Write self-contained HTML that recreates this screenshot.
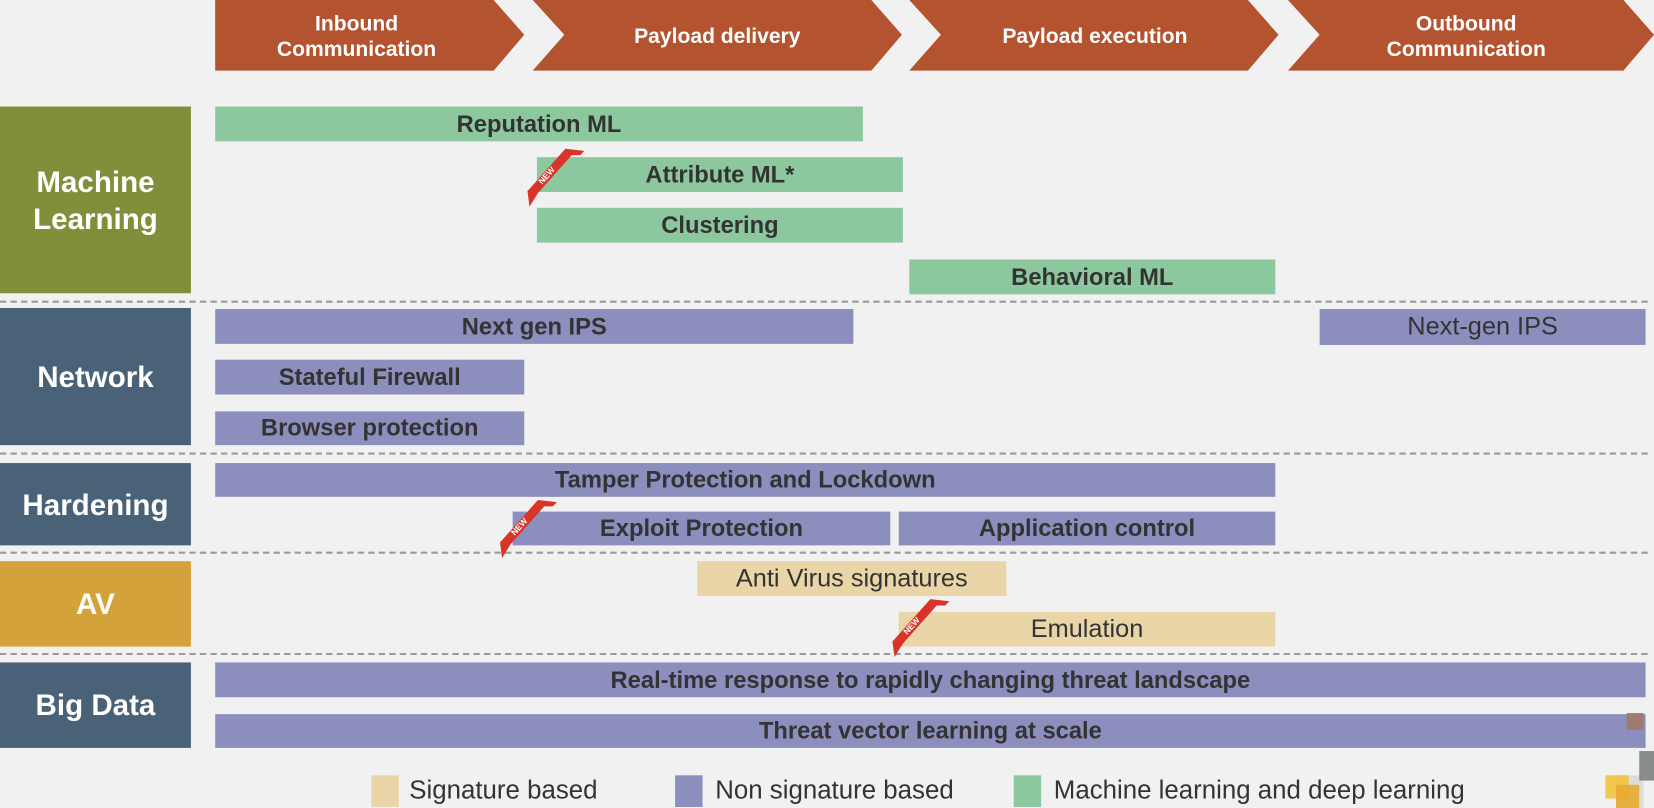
<!DOCTYPE html>
<html><head><meta charset="utf-8"><style>
body{margin:0;width:1654px;height:808px;background:#f1f1f1;overflow:hidden;font-family:"Liberation Sans",sans-serif}
#w{position:absolute;left:0;top:0;width:1568px;height:766px;transform:scale(1.05485);transform-origin:0 0}
.b{position:absolute;display:flex;align-items:center;justify-content:center;font-weight:bold;font-size:22.5px;color:#333;box-sizing:border-box;white-space:nowrap}
.g{background:#8dc79e}.p{background:#8c8ebd}.t{background:#e9d5a7;font-weight:normal;font-size:24px}
.c{position:absolute;left:0;width:181px;display:flex;align-items:center;justify-content:center;color:#fff;font-weight:bold;font-size:28px;text-align:center;line-height:1.25}
.d{position:absolute;left:0;width:1562px;border-top:2px dashed #9a9a9a}
.lg{position:absolute;top:735px;width:26px;height:30px}
.lt{position:absolute;top:736px;font-size:24.5px;color:#333;white-space:nowrap}
</style></head><body><div id="w">
<svg width="1568" height="766" style="position:absolute;left:0;top:0">
<g fill="#b3532f">
<polygon points="204,0 468,0 497,33 468,67 204,67"/>
<polygon points="505,0 826,0 855,33 826,67 505,67 535,33"/>
<polygon points="862,0 1183,0 1212,33 1183,67 862,67 892,33"/>
<polygon points="1221,0 1539,0 1568,33 1539,67 1221,67 1251,33"/>
</g>
<g fill="#fff" font-family="Liberation Sans, sans-serif" font-weight="bold" font-size="20" text-anchor="middle">
<text x="338" y="29">Inbound</text><text x="338" y="53">Communication</text>
<text x="680" y="41">Payload delivery</text>
<text x="1038" y="41">Payload execution</text>
<text x="1390" y="29">Outbound</text><text x="1390" y="53">Communication</text>
</g>
</svg>
<div class="c" style="top:101px;height:177px;background:#7f8f3a">Machine<br>Learning</div>
<div class="c" style="top:292px;height:130px;background:#4a6278">Network</div>
<div class="c" style="top:439px;height:78px;background:#4a6278">Hardening</div>
<div class="c" style="top:532px;height:81px;background:#d4a23a">AV</div>
<div class="c" style="top:628px;height:81px;background:#4a6278">Big Data</div>
<div class="d" style="top:285px"></div>
<div class="d" style="top:429px"></div>
<div class="d" style="top:523px"></div>
<div class="d" style="top:619px"></div>
<div class="b g" style="left:204px;top:101px;width:614px;height:33px">Reputation ML</div>
<div class="b g" style="left:509px;top:149px;width:347px;height:33px">Attribute ML*</div>
<div class="b g" style="left:509px;top:197px;width:347px;height:33px">Clustering</div>
<div class="b g" style="left:862px;top:246px;width:347px;height:33px">Behavioral ML</div>
<div class="b p" style="left:204px;top:293px;width:605px;height:33px">Next gen IPS</div>
<div class="b p" style="left:1251px;top:293px;width:309px;height:34px;font-weight:normal;font-size:24px">Next-gen IPS</div>
<div class="b p" style="left:204px;top:341px;width:293px;height:33px">Stateful Firewall</div>
<div class="b p" style="left:204px;top:390px;width:293px;height:32px">Browser protection</div>
<div class="b p" style="left:204px;top:439px;width:1005px;height:32px">Tamper Protection and Lockdown</div>
<div class="b p" style="left:486px;top:485px;width:358px;height:32px">Exploit Protection</div>
<div class="b p" style="left:852px;top:485px;width:357px;height:32px">Application control</div>
<div class="b t" style="left:661px;top:532px;width:293px;height:33px">Anti Virus signatures</div>
<div class="b t" style="left:852px;top:580px;width:357px;height:33px">Emulation</div>
<div class="b p" style="left:204px;top:628px;width:1356px;height:33px">Real-time response to rapidly changing threat landscape</div>
<div class="b p" style="left:204px;top:677px;width:1356px;height:32px">Threat vector learning at scale</div>
<svg width="1568" height="766" style="position:absolute;left:0;top:0">
<g font-family="Liberation Sans, sans-serif" font-size="8" font-weight="bold" fill="#fff">
<g transform="translate(500,141)"><polygon points="2,38 36,0 54,2 50,6 42,6 10,42 2,55 0,40" fill="#d9342a"/><text x="14" y="34" transform="rotate(-48 14 34)">NEW</text></g>
<g transform="translate(474,474)"><polygon points="2,38 36,0 54,2 50,6 42,6 10,42 2,55 0,40" fill="#d9342a"/><text x="14" y="34" transform="rotate(-48 14 34)">NEW</text></g>
<g transform="translate(846,568)"><polygon points="2,38 36,0 54,2 50,6 42,6 10,42 2,55 0,40" fill="#d9342a"/><text x="14" y="34" transform="rotate(-48 14 34)">NEW</text></g>
</g>
<rect x="1542" y="676" width="16" height="16" fill="#a07a70"/>
<rect x="1532" y="735" width="26" height="31" fill="#dcdcd8"/>
<rect x="1554" y="712" width="14" height="28" fill="#888c88"/>
<rect x="1522" y="735" width="22" height="22" fill="#f2c23a" opacity="0.9"/>
<rect x="1532" y="744" width="22" height="22" fill="#e8a830" opacity="0.9"/>
</svg>
<div class="lg" style="left:352px;background:#e9d5a7"></div><div class="lt" style="left:388px">Signature based</div>
<div class="lg" style="left:640px;background:#8c8ebd"></div><div class="lt" style="left:678px">Non signature based</div>
<div class="lg" style="left:961px;background:#8dc79e"></div><div class="lt" style="left:999px">Machine learning and deep learning</div>
</div></body></html>
